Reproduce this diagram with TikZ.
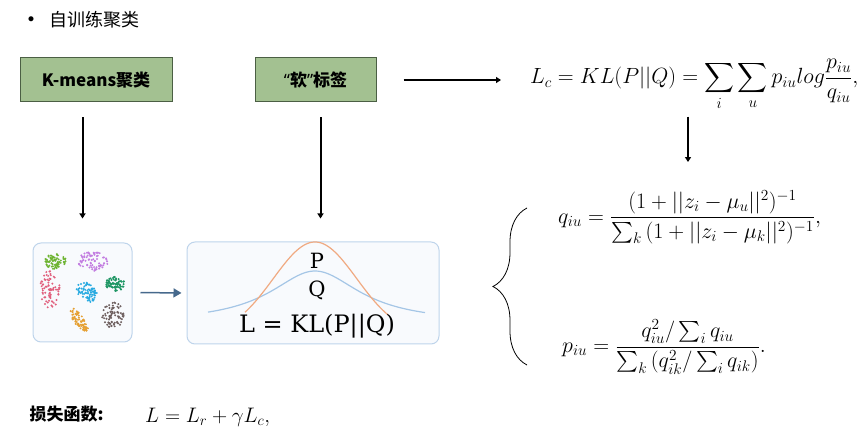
\documentclass[tikz,border=0pt]{standalone}
\usepackage{fix-cm}
\usepackage{exscale}
\usepackage{fontspec}
\newfontfamily\cjk{Noto Sans CJK SC}
\newfontfamily\quotefont{Noto Sans}
\newfontfamily\klfont{DejaVu Serif}
\usetikzlibrary{arrows.meta,decorations.pathreplacing}
\definecolor{boxgreen}{RGB}{163,193,145}
\definecolor{boxedge}{RGB}{75,95,68}
\definecolor{picedge}{RGB}{190,212,235}
\definecolor{picfill}{RGB}{248,250,253}
\definecolor{arrowblue}{RGB}{70,105,140}
\definecolor{curveP}{RGB}{240,170,130}
\definecolor{curveQ}{RGB}{165,198,230}
\definecolor{dotgreen}{RGB}{110,180,50}
\definecolor{dotpurple}{RGB}{195,125,225}
\definecolor{dotpink}{RGB}{225,95,125}
\definecolor{dotcyan}{RGB}{40,170,225}
\definecolor{dotteal}{RGB}{30,150,100}
\definecolor{dotorange}{RGB}{230,160,50}
\definecolor{dotbrown}{RGB}{110,95,95}

\begin{document}
\begin{tikzpicture}[x=1pt, y=-1pt, >={Triangle[length=5pt,width=6pt]},
  labelbox/.style={draw=boxedge, fill=boxgreen, line width=1pt, minimum width=152pt,
    minimum height=44pt, font=\cjk\bfseries\fontsize{17}{20}\selectfont},
  picbox/.style={draw=picedge, fill=picfill, rounded corners=8pt, line width=1pt},
  flow/.style={->, line width=2pt},
  formula/.style={inner sep=0pt, anchor=west, font=\fontsize{22}{26}\selectfont}]
  \useasboundingbox (0,0) rectangle (867,443);

  \node (dot) at (31,20) {\fontsize{13}{13}\selectfont$\bullet$};
  \node[anchor=west, font=\cjk\fontsize{18}{20}\selectfont] (title) at (46,20) {自训练聚类};

  \node[labelbox] (km) at (96,80) {K-means聚类};
  \node[labelbox, minimum width=121pt] (soft) at (315.5,80)
    {{\quotefont\bfseries “}软{\quotefont\bfseries ”}标签};
  \node[formula] (lc) at (530,85)
    {$\displaystyle L_c = KL(P||Q) = \sum_i \sum_u p_{iu} log\frac{p_{iu}}{q_{iu}},$};

  \node[picbox, minimum width=99pt, minimum height=99pt] (scatter) at (82.5,292.5) {};
  \node[picbox, minimum width=252pt, minimum height=102pt] (kl) at (313,293) {};

  \pgfmathsetseed{11}
  \foreach \cx/\cy/\rx/\ry/\sl/\col in {55/261/11/8/0/dotgreen, 93/261/15/10/0/dotpurple,
      50/289/10/19/0/dotpink, 87/292/10/10/0.3/dotcyan, 115/284/10/7/0/dotteal,
      79/320/6/12/0.6/dotorange, 113/315/11/13/0/dotbrown} {
    \foreach \k in {1,...,75} {
      \pgfmathsetmacro{\r}{sqrt(rnd)}
      \pgfmathsetmacro{\t}{360*rnd}
      \fill[\col] ({\cx+\rx*\r*cos(\t)+\sl*\ry*\r*sin(\t)},{\cy+\ry*\r*sin(\t)}) circle (1.1);
    }
  }

  \draw[curveQ, line width=1.2pt] plot[domain=208:425, samples=90, smooth]
    (\x,{323-52/(1+((\x-315)/55)^2)});
  \draw[curveP, line width=1.2pt] plot[domain=245:388, samples=90, smooth]
    (\x,{335-93*exp(-((\x-315)/59)^2)});
  \node[font=\klfont\fontsize{21}{24}\selectfont] (P) at (317,261) {P};
  \node[font=\klfont\fontsize{21}{24}\selectfont] (Q) at (317,290) {Q};
  \node[font=\klfont\fontsize{24}{28}\selectfont] (klL) at (317,326) {L = KL(P||Q)};

  \node[formula] (qf) at (558,217)
    {$\displaystyle q_{iu} = \frac{(1+||z_i-\mu_u||^2)^{-1}}{\sum_k\,(1+||z_i-\mu_k||^2)^{-1}},$};
  \node[formula] (pf) at (562,347)
    {$\displaystyle p_{iu} = \frac{q_{iu}^2/\sum_i q_{iu}}{\sum_k\,(q_{ik}^2/\sum_i q_{ik})}.$};
  \draw[decorate, decoration={brace, amplitude=34pt}, line width=0.8pt] (527,365) -- (527,208);

  \node[anchor=west, font=\cjk\bfseries\fontsize{17}{20}\selectfont] (lossname) at (26,414) {损失函数:};
  \node[formula, font=\fontsize{21}{25}\selectfont] (loss) at (145,417) {$L = L_r + \gamma L_c,$};

  \draw[flow, shorten <=15pt, shorten >=24pt] (scatter.north |- km.south) -- (scatter.north);
  \draw[flow, shorten <=15pt, shorten >=23pt] ([xshift=5pt]soft.south) -- ([xshift=5pt]soft.south |- kl.north);
  \draw[flow, shorten <=27pt, shorten >=29pt] (soft.east) -- (soft.east -| lc.west);
  \draw[flow, shorten <=6pt, shorten >=28pt] (lc.south -| 688,0) -- (qf.north -| 688,0);
  \draw[arrowblue, line width=1.5pt, -{Triangle[length=8pt,width=9pt]}, shorten <=8pt, shorten >=5pt]
    (scatter.east) -- (kl.west);
\end{tikzpicture}
\end{document}
